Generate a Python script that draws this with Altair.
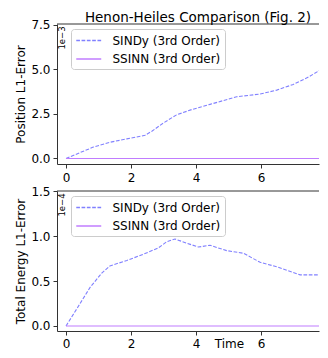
import altair as alt
import pandas as pd

# ---- data ----
models = ["SINDy (3rd Order)", "SSINN (3rd Order)"]
chart_title = "Henon-Heiles Comparison (Fig. 2)"

t_pos = [0.0, 0.42, 0.84, 1.35, 1.87, 2.43, 2.64, 2.99, 3.40, 3.87, 4.43, 5.25, 5.97, 6.48, 6.99, 7.46, 8.02]
sindy_pos = [0.0, 0.32, 0.64, 0.91, 1.10, 1.30, 1.53, 1.99, 2.45, 2.75, 3.04, 3.47, 3.62, 3.84, 4.16, 4.58, 5.19]

t_en = [0.0, 0.33, 0.74, 1.10, 1.35, 1.87, 2.38, 2.84, 3.10, 3.35, 3.82, 4.07, 4.43, 4.94, 5.46, 5.97, 6.48, 7.20, 7.61, 8.02]
sindy_en = [0.0, 0.19, 0.43, 0.59, 0.67, 0.73, 0.80, 0.87, 0.94, 0.97, 0.91, 0.88, 0.90, 0.84, 0.81, 0.71, 0.66, 0.57, 0.57, 0.57]

t_ssinn = [0.0, 2.0, 4.0, 6.0, 8.02]
ssinn_pos = [0.0, 0.0, 0.0, 0.0, 0.0]
ssinn_en = [0.0, 0.0, 0.0, 0.0, 0.0]

x_ticks = [0, 2, 4, 6, 8]
pos_ticks = [0.0, 2.5, 5.0, 7.5]
en_ticks = [0.0, 0.5, 1.0, 1.5]

colors = ["#8080ff", "#c07cff"]
dashes = [[3.7, 1.6], [1, 0]]

df_pos = pd.DataFrame({
    "t": t_pos + t_ssinn,
    "v": sindy_pos + ssinn_pos,
    "model": [models[0]] * len(t_pos) + [models[1]] * len(t_ssinn),
})
df_en = pd.DataFrame({
    "t": t_en + t_ssinn,
    "v": sindy_en + ssinn_en,
    "model": [models[0]] * len(t_en) + [models[1]] * len(t_ssinn),
})

W = 262
FONT = "DejaVu Sans"
AX = "#333333"
LINE_SYM = "M-1,0H3"


def legend():
    return alt.Legend(title=None, orient="none", legendX=14, legendY=5,
                      symbolType=LINE_SYM, symbolSize=156, symbolStrokeWidth=1.6,
                      labelFontSize=12, labelColor="black", labelOffset=22.5,
                      padding=4, rowPadding=4.5,
                      fillColor="white", strokeColor="#cccccc", cornerRadius=3)


def panel(df, ydomain, yticks, ytitle, offset_txt, xtitle, h, lpad, title=None):
    xkw = dict(values=x_ticks, format="d", grid=False, tickSize=4, labelPadding=lpad,
               labelFontSize=12, labelColor="black", domainColor=AX, tickColor=AX,
               labelFlush=False)
    if xtitle:
        xkw.update(title=xtitle, titleFontSize=12, titleFontWeight="normal",
                   titleColor="black", titleX=172, titleY=4 + lpad, titleBaseline="top")
    else:
        xkw.update(title=None)
    xaxis = alt.Axis(**xkw)
    yaxis = alt.Axis(values=yticks, format=".1f", grid=False, tickSize=4, labelPadding=3,
                     labelFontSize=12, labelColor="black", domainColor=AX, tickColor=AX,
                     title=ytitle, titleFontSize=12, titleFontWeight="normal",
                     titleColor="black", titlePadding=3)
    lines = alt.Chart(df).mark_line(clip=True, strokeWidth=1.1).encode(
        x=alt.X("t:Q", scale=alt.Scale(domain=[-0.277, 7.78], nice=False, zero=False), axis=xaxis),
        y=alt.Y("v:Q", scale=alt.Scale(domain=ydomain, nice=False, zero=False), axis=yaxis),
        color=alt.Color("model:N", scale=alt.Scale(domain=models, range=colors), legend=legend()),
        strokeDash=alt.StrokeDash("model:N", scale=alt.Scale(domain=models, range=dashes),
                                  legend=legend()),
        strokeWidth=alt.StrokeWidth("model:N", scale=alt.Scale(domain=models, range=[1.1, 1.6]),
                                    legend=None),
        order=alt.Order("t:Q"),
    )
    txt = alt.Chart(pd.DataFrame({"s": [offset_txt]})).mark_text(
        angle=270, fontSize=8.5, font=FONT, color="black", align="center", baseline="middle"
    ).encode(text="s:N", x=alt.value(5), y=alt.value(14))
    top = alt.Chart(pd.DataFrame({"s": [0]})).mark_rule(color=AX, strokeWidth=1).encode(
        x=alt.value(0), x2=alt.value(W), y=alt.value(0))
    layers = [lines, txt, top]
    if title:
        ttl = alt.Chart(pd.DataFrame({"s": [title]})).mark_text(
            fontSize=13.5, font=FONT, color="black", align="center", baseline="alphabetic"
        ).encode(text="s:N", x=alt.value(W / 2 + 10), y=alt.value(-2.5))
        layers.append(ttl)
    return alt.layer(*layers).properties(width=W, height=h)


p1 = panel(df_pos, [-0.31, 7.556], pos_ticks, "Position L1-Error", "1e\u22123", None, 140, 4,
           chart_title)
p2 = panel(df_en, [-0.056, 1.505], en_ticks, "Total Energy L1-Error", "1e\u22124", "Time", 140, 3)

chart = alt.vconcat(p1, p2, spacing=2).resolve_scale(y="independent").resolve_legend(
    color="independent", strokeDash="independent"
).properties(
    padding={"left": 6, "top": 2, "right": 0, "bottom": 0}
).configure(font=FONT).configure_view(stroke=None)

chart.save("out.html", embed_options={"renderer": "svg", "actions": False})
